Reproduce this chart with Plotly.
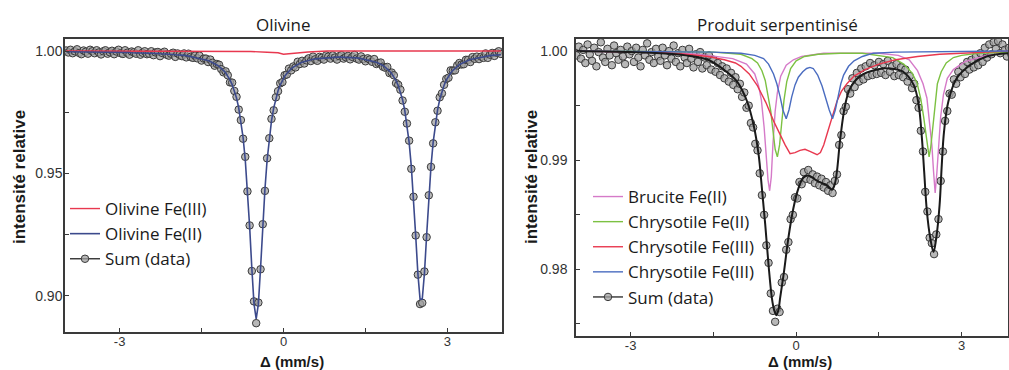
import plotly.graph_objects as go

# ---------------- data ----------------
X0 = -3.98          # first channel velocity (mm/s)
DX = 0.04           # channel step (mm/s)

# Olivine: measured points (relative intensity)
OLIV_DATA = [
    1.0002, .9994, 1.0005, .9991, .9999, 1.0007, .9992, .9987, 1.0002, .9997,
    .9989, 1.0005, .9999, .9991, 1.0003, .9994, .9986, .9999, 1.0003, .9989,
    .9995, 1.0001, .9987, .9998, 1.0005, .9991, .9988, 1.0003, .9993, .9985,
    .9998, .9995, .9989, 1.0003, .9985, .9993, .9999, .9987, .9989, .9999,
    .9983, .9994, .9996, .9979, .9992, .9997, .9985, .9981, .9989, .9993,
    .9976, .9990, .9984, .9979, .9990, .9974, .9989, .9976, .9972, .9981,
    .9970, .9981, .9961, .9969, .9969, .9955, .9965, .9952, .9940, .9947,
    .9944, .9926, .9913, .9917, .9901, .9872, .9871, .9837, .9813, .9761,
    .9718, .9642, .9568, .9427, .9288, .9102, .8978,
    .8889, .8973, .9109, .9293, .9429, .9562, .9644, .9723, .9758, .9811,
    .9836, .9868, .9873, .9901, .9904, .9928, .9921, .9937, .9933, .9956,
    .9947, .9960, .9949, .9962, .9970, .9959, .9977, .9966, .9960, .9976,
    .9972, .9965, .9982, .9977, .9969, .9982, .9973, .9965, .9979, .9983,
    .9969, .9975, .9980, .9966, .9976, .9984, .9969, .9965, .9978, .9967,
    .9958, .9970, .9965, .9956, .9967, .9947, .9951, .9953, .9936, .9932,
    .9935, .9910, .9912, .9901, .9869, .9862, .9842, .9798, .9752, .9704,
    .9634, .9519, .9405, .9247, .9087, .8967,
    .8972, .9100, .9240, .9411, .9527, .9623, .9709, .9756, .9811, .9827,
    .9862, .9886, .9891, .9921, .9920, .9921, .9941, .9951, .9945, .9946,
    .9964, .9964, .9955, .9975, .9968, .9977, .9967, .9977, .9972, .9990,
    .9972, .9985, .9992, .9980, .9993, .9999, .9988,
]

# Olivine Fe(II) fitted component (same channels)
OLIV_FE2 = [
    .9997, .9997, .9997, .9997, .9997, .9997, .9996, .9996, .9996, .9996,
    .9996, .9996, .9996, .9996, .9996, .9996, .9996, .9995, .9995, .9995,
    .9995, .9995, .9995, .9995, .9994, .9994, .9994, .9994, .9994, .9994,
    .9993, .9993, .9993, .9993, .9992, .9992, .9992, .9992, .9991, .9991,
    .9991, .9990, .9990, .9989, .9989, .9988, .9988, .9987, .9987, .9986,
    .9985, .9985, .9984, .9983, .9982, .9981, .9979, .9978, .9977, .9975,
    .9973, .9972, .9969, .9967, .9964, .9961, .9957, .9953, .9949, .9943,
    .9937, .9930, .9921, .9911, .9898, .9882, .9863, .9839, .9808, .9768,
    .9716, .9647, .9556, .9435, .9284, .9114, .8968,
    .8907, .8967, .9114, .9284, .9435, .9555, .9647, .9715, .9767, .9807,
    .9838, .9861, .9881, .9896, .9908, .9919, .9927, .9934, .9940, .9946,
    .9950, .9954, .9957, .9960, .9962, .9964, .9966, .9968, .9969, .9970,
    .9971, .9972, .9973, .9974, .9974, .9975, .9975, .9975, .9975, .9975,
    .9975, .9975, .9974, .9974, .9973, .9973, .9972, .9971, .9969, .9968,
    .9967, .9965, .9963, .9960, .9957, .9954, .9950, .9946, .9941, .9934,
    .9927, .9918, .9908, .9895, .9879, .9859, .9833, .9801, .9758, .9702,
    .9627, .9528, .9400, .9247, .9091, .8987,
    .8987, .9092, .9247, .9401, .9529, .9628, .9703, .9759, .9802, .9835,
    .9860, .9881, .9897, .9910, .9921, .9930, .9937, .9944, .9949, .9954,
    .9958, .9961, .9965, .9967, .9970, .9972, .9974, .9975, .9977, .9978,
    .9980, .9981, .9982, .9983, .9984, .9985, .9985,
]

# Olivine Fe(III) component
OLIV_FE3_X = [-3.98, -1.0, -0.6, -0.3, -0.1, 0.0, 0.1, 0.2, 0.3, 0.45, 0.6, 0.8, 1.2, 3.98]
OLIV_FE3_Y = [1.0, 1.0, 0.9998, 0.9995, 0.9993, 0.9987, 0.9990, 0.9991, 0.9993, 0.9996, 0.9998, 1.0, 1.0, 1.0]

# Produit serpentinisé: measured points
SERP_DATA = [
    .9996, 1.0004, .9993, 1.0001, .9989, 1.0006, .9997, .9991, 1.0003, .9986,
    .9999, 1.0008, .9994, .9990, 1.0002, .9996, .9987, 1.0005, .9998, .9992,
    1.0001, .9995, .9988, 1.0004, .9997, 1.0000, .9990, 1.0003, .9994, .9986,
    1.0001, .9996, 1.0007, .9992, .9999, .9989, 1.0002, .9995, .9991, 1.0003,
    .9996, .9987, 1.0000, .9993, 1.0005, .9990, .9998, .9986, 1.0001, .9994,
    .9989, 1.0002, .9993, .9985, .9997, .9990, .9999, .9984, .9994, .9987,
    .9996, .9983, .9992, .9981, .9989, .9978, .9986, .9975, .9984, .9972,
    .9980, .9969, .9976, .9965, .9970, .9958, .9962, .9948, .9950, .9934,
    .9930, .9915, .9909, .9888, .9868, .9850, .9822, .9806, .9778, .9762,
    .9752, .9764, .9761, .9788, .9793, .9818, .9825, .9846, .9850, .9866,
    .9865, .9880, .9878, .9889, .9883, .9891, .9882, .9887, .9879, .9885,
    .9877, .9883, .9875, .9880, .9872, .9877, .9870, .9881, .9887, .9914,
    .9923, .9945, .9949, .9965, .9961, .9975, .9967, .9980, .9972, .9984,
    .9974, .9986, .9977, .9989, .9978, .9987, .9979, .9990, .9980, .9988,
    .9978, .9991, .9981, .9986, .9977, .9988, .9978, .9985, .9976, .9983,
    .9972, .9977, .9966, .9970, .9955, .9948, .9927, .9908, .9871, .9853,
    .9829, .9824, .9814, .9832, .9846, .9881, .9908, .9936, .9945, .9961,
    .9960, .9974, .9970, .9981, .9976, .9986, .9979, .9990, .9983, .9992,
    .9985, .9995, .9987, .9998, .9990, 1.0003, .9994, 1.0006, .9997, 1.0008,
    1.0002, 1.0009, .9998, 1.0006, 1.0001, .9995, 1.0003, .9997, 1.0002, .9999,
]

# Sum (fit) for the serpentinised product
SUM_X = [-3.98, -3.0, -2.46, -2.0, -1.6, -1.26, -1.07, -0.89, -0.77, -0.68, -0.62, -0.56,
         -0.50, -0.44, -0.40, -0.36, -0.32, -0.29, -0.22, -0.14, -0.05, 0.04, 0.13, 0.22,
         0.30, 0.38, 0.47, 0.56, 0.65, 0.70, 0.74, 0.80, 0.89, 0.98, 1.16, 1.46, 1.70,
         1.94, 2.13, 2.22, 2.28, 2.32, 2.37, 2.43, 2.49, 2.54, 2.60, 2.64, 2.68, 2.76,
         2.91, 3.15, 3.45, 3.85]
SUM_Y = [1.0000, 0.9999, 0.9998, 0.9996, 0.9992, 0.9981, 0.9972, 0.9954, 0.9932, 0.9905,
         0.9874, 0.9841, 0.9804, 0.9774, 0.9763, 0.9758, 0.9763, 0.9774, 0.9798, 0.9829,
         0.9856, 0.9874, 0.9884, 0.9886, 0.9884, 0.9881, 0.9879, 0.9877, 0.9873, 0.9878,
         0.9890, 0.9920, 0.9951, 0.9966, 0.9977, 0.9983, 0.9984, 0.9981, 0.9969, 0.9951,
         0.9920, 0.9890, 0.9853, 0.9829, 0.9816, 0.9829, 0.9859, 0.9896, 0.9926, 0.9954,
         0.9975, 0.9987, 0.9995, 0.9998]

# Brucite Fe(II)
BRU_X = [-3.98, -2.0, -1.6, -1.15, -0.9, -0.75, -0.68, -0.63, -0.58, -0.54, -0.51, -0.48,
         -0.45, -0.42, -0.38, -0.34, -0.28, -0.18, -0.05, 0.1, 0.5, 1.0, 1.5, 1.85, 2.05,
         2.2, 2.3, 2.37, 2.42, 2.46, 2.49, 2.52, 2.55, 2.58, 2.62, 2.67, 2.74, 2.85, 3.05,
         3.45, 3.9]
BRU_Y = [1.0000, 0.9998, 0.9996, 0.9993, 0.9988, 0.9979, 0.9968, 0.9955, 0.9930, 0.9900,
         0.9882, 0.9872, 0.9885, 0.9915, 0.9945, 0.9962, 0.9977, 0.9987, 0.9992, 0.9995,
         0.9998, 0.9998, 0.9998, 0.9996, 0.9992, 0.9982, 0.9970, 0.9957, 0.9935, 0.9914,
         0.9890, 0.9870, 0.9888, 0.9915, 0.9940, 0.9960, 0.9975, 0.9983, 0.9990, 0.9996,
         0.9999]

# Chrysotile Fe(II)
CHR2_X = [-3.98, -1.5, -1.0, -0.8, -0.7, -0.62, -0.56, -0.5, -0.46, -0.42, -0.38, -0.34,
          -0.30, -0.26, -0.22, -0.17, -0.10, 0.0, 0.15, 0.4, 0.8, 1.2, 1.5, 1.75, 1.95,
          2.1, 2.19, 2.26, 2.31, 2.35, 2.38, 2.41, 2.44, 2.47, 2.51, 2.56, 2.63, 2.72,
          2.85, 3.0, 3.3, 3.9]
CHR2_Y = [1.0000, 0.9999, 0.9997, 0.9993, 0.9989, 0.9982, 0.9973, 0.9958, 0.9945, 0.9927,
          0.9910, 0.9903, 0.9914, 0.9935, 0.9955, 0.9972, 0.9984, 0.9991, 0.9995, 0.9997,
          0.9998, 0.9998, 0.9996, 0.9994, 0.9988, 0.9980, 0.9971, 0.9956, 0.9940, 0.9926,
          0.9912, 0.9903, 0.9912, 0.9926, 0.9950, 0.9970, 0.9981, 0.9989, 0.9994, 0.9996,
          0.9998, 0.9999]

# Chrysotile Fe(III) (red)
CHR3R_X = [-3.98, -3.0, -2.5, -2.0, -1.6, -1.3, -1.1, -1.0, -0.85, -0.7, -0.55, -0.41,
           -0.3, -0.2, -0.11, -0.02, 0.07, 0.16, 0.25, 0.33, 0.38, 0.44, 0.5, 0.56, 0.65,
           0.74, 0.82, 0.92, 1.05, 1.25, 1.5, 1.8, 2.2, 2.6, 3.0, 3.5, 3.9]
CHR3R_Y = [1.0000, 0.9999, 0.9999, 0.9997, 0.9995, 0.9992, 0.9989, 0.9986, 0.9979, 0.9968,
           0.9953, 0.9936, 0.9924, 0.9914, 0.9906, 0.9907, 0.9909, 0.9910, 0.9908, 0.9906,
           0.9905, 0.9907, 0.9914, 0.9924, 0.9940, 0.9954, 0.9963, 0.9970, 0.9977, 0.9983,
           0.9988, 0.9992, 0.9995, 0.9997, 0.9998, 0.9999, 1.0000]

# Chrysotile Fe(III) (blue)
CHR3B_X = [-3.98, -1.5, -1.0, -0.75, -0.59, -0.5, -0.41, -0.35, -0.29, -0.24, -0.18, -0.13,
           -0.08, -0.02, 0.04, 0.12, 0.19, 0.25, 0.31, 0.39, 0.47, 0.54, 0.60, 0.66, 0.71,
           0.76, 0.81, 0.86, 0.95, 1.05, 1.2, 1.4, 1.8, 3.9]
CHR3B_Y = [1.0000, 0.9999, 0.9998, 0.9996, 0.9993, 0.9988, 0.9979, 0.9970, 0.9958, 0.9946,
           0.9938, 0.9946, 0.9958, 0.9969, 0.9976, 0.9981, 0.9984, 0.9985, 0.9984, 0.9978,
           0.9968, 0.9956, 0.9946, 0.9938, 0.9946, 0.9958, 0.9970, 0.9978, 0.9986, 0.9991,
           0.9995, 0.9998, 0.9999, 1.0000]

X_TICKS = [-3, -1.5, 0, 1.5, 3]
X_TICKTEXT = ["-3", "", "0", "", "3"]
YL_TICKS = [0.90, 0.925, 0.95, 0.975, 1.00]
YL_TICKTEXT = ["0.90", "", "0.95", "", "1.00"]
YR_TICKS = [0.975, 0.98, 0.985, 0.99, 0.995, 1.00]
YR_TICKTEXT = ["", "0.98", "", "0.99", "", "1.00"]

# ---------------- styles ----------------
W, H = 1009, 370
MARK = dict(size=7.5, color="rgba(160,160,160,0.75)", line=dict(color="#3a3a3a", width=1))
RED = "#e8384f"
NAVY = "#3c4a8c"
PINK = "#d57ac8"
GREEN = "#7cc142"
BLUE = "#4a6cc0"
BLACK = "#1a1a1a"
LEG_FONT = dict(family="Open Sans", size=17, color="#1a1a1a")
TICK_FONT = dict(family="Liberation Sans", size=14, color="#333")
XTICK_FONT = dict(family="Liberation Sans", size=13, color="#333")

fig = go.Figure()

# ---- left panel ----
fig.add_trace(go.Scatter(x0=X0, dx=DX, y=OLIV_DATA, mode="markers", marker=MARK,
                         showlegend=False, xaxis="x", yaxis="y"))
fig.add_trace(go.Scatter(x=OLIV_FE3_X, y=OLIV_FE3_Y, mode="lines", name="Olivine Fe(III)",
                         line=dict(color=RED, width=1.4), xaxis="x", yaxis="y", legend="legend"))
fig.add_trace(go.Scatter(x0=X0, dx=DX, y=OLIV_FE2, mode="lines", name="Olivine Fe(II)",
                         line=dict(color=NAVY, width=1.6), xaxis="x", yaxis="y", legend="legend"))
fig.add_trace(go.Scatter(x=[None], y=[None], mode="lines+markers", name="Sum (data)",
                         line=dict(color="#333", width=1.4), marker=MARK,
                         xaxis="x", yaxis="y", legend="legend"))

# ---- right panel ----
fig.add_trace(go.Scatter(x0=X0, dx=DX, y=SERP_DATA, mode="markers", marker=MARK,
                         showlegend=False, xaxis="x2", yaxis="y2"))
fig.add_trace(go.Scatter(x=BRU_X, y=BRU_Y, mode="lines", name="Brucite Fe(II)",
                         line=dict(color=PINK, width=1.4), xaxis="x2", yaxis="y2", legend="legend2"))
fig.add_trace(go.Scatter(x=CHR2_X, y=CHR2_Y, mode="lines", name="Chrysotile Fe(II)",
                         line=dict(color=GREEN, width=1.4), xaxis="x2", yaxis="y2", legend="legend2"))
fig.add_trace(go.Scatter(x=CHR3R_X, y=CHR3R_Y, mode="lines", name="Chrysotile Fe(III)",
                         line=dict(color=RED, width=1.4), xaxis="x2", yaxis="y2", legend="legend2"))
fig.add_trace(go.Scatter(x=CHR3B_X, y=CHR3B_Y, mode="lines", name="Chrysotile Fe(III) ",
                         line=dict(color=BLUE, width=1.4), xaxis="x2", yaxis="y2", legend="legend2"))
fig.add_trace(go.Scatter(x=SUM_X, y=SUM_Y, mode="lines", line=dict(color=BLACK, width=2),
                         line_shape="spline", showlegend=False, xaxis="x2", yaxis="y2"))
fig.add_trace(go.Scatter(x=[None], y=[None], mode="lines+markers", name="Sum (data)",
                         line=dict(color="#333", width=1.4), marker=MARK,
                         xaxis="x2", yaxis="y2", legend="legend2"))

def ax(**kw):
    base = dict(showline=True, mirror=True, linecolor="#3a3a3a", linewidth=1.5,
                ticks="inside", ticklen=4, tickwidth=1, tickcolor="#3a3a3a",
                showgrid=False, zeroline=False, tickfont=TICK_FONT, fixedrange=True)
    base.update(kw)
    return base

def ann(text, x, y, size, family, angle=0):
    return dict(text=text, x=x / W, y=1 - y / H, xref="paper", yref="paper",
                xanchor="center", yanchor="middle", textangle=angle, showarrow=False,
                font=dict(family=family, size=size, color="#1a1a1a"))

fig.update_layout(
    width=W, height=H, margin=dict(l=0, r=0, t=0, b=0),
    paper_bgcolor="white", plot_bgcolor="white",
    xaxis=ax(domain=[65 / W, 502 / W], range=[-4.0, 4.0], anchor="y",
             tickvals=X_TICKS, ticktext=X_TICKTEXT, ticklabelstandoff=-3, tickfont=XTICK_FONT),
    yaxis=ax(domain=[1 - 332 / H, 1 - 39 / H], range=[0.8853, 1.0049], anchor="x",
             tickvals=YL_TICKS, ticktext=YL_TICKTEXT, ticklabelstandoff=-2),
    xaxis2=ax(domain=[576 / W, 1008 / W], range=[-3.99, 3.84], anchor="y2",
              tickvals=X_TICKS, ticktext=X_TICKTEXT, ticklabelstandoff=-3, tickfont=XTICK_FONT),
    yaxis2=ax(domain=[1 - 336 / H, 1 - 39 / H], range=[0.9739, 1.0011], anchor="x2",
              tickvals=YR_TICKS, ticktext=YR_TICKTEXT, ticklabelstandoff=4),
    legend=dict(x=65 / W, y=1 - 191 / H, xanchor="left", yanchor="top", font=LEG_FONT,
                bgcolor="rgba(0,0,0,0)", itemwidth=30, borderwidth=0),
    legend2=dict(x=588 / W, y=1 - 179 / H, xanchor="left", yanchor="top", font=LEG_FONT,
                 bgcolor="rgba(0,0,0,0)", itemwidth=30, borderwidth=0),
    annotations=[
        ann("Olivine", 283, 25, 17, "Open Sans"),
        ann("Produit serpentinisé", 777, 25, 17, "Open Sans"),
        ann("<b>intensité relative</b>", 19, 177, 17, "Liberation Sans", -90),
        ann("<b>intensité relative</b>", 531, 177, 17, "Liberation Sans", -90),
        ann("<b>Δ (mm/s)</b>", 292, 361, 15, "Liberation Sans"),
        ann("<b>Δ (mm/s)</b>", 800, 361, 15, "Liberation Sans"),
    ],
)

fig.write_html("out.html", config={"displayModeBar": False},
               post_script="document.body.style.margin='0';")
